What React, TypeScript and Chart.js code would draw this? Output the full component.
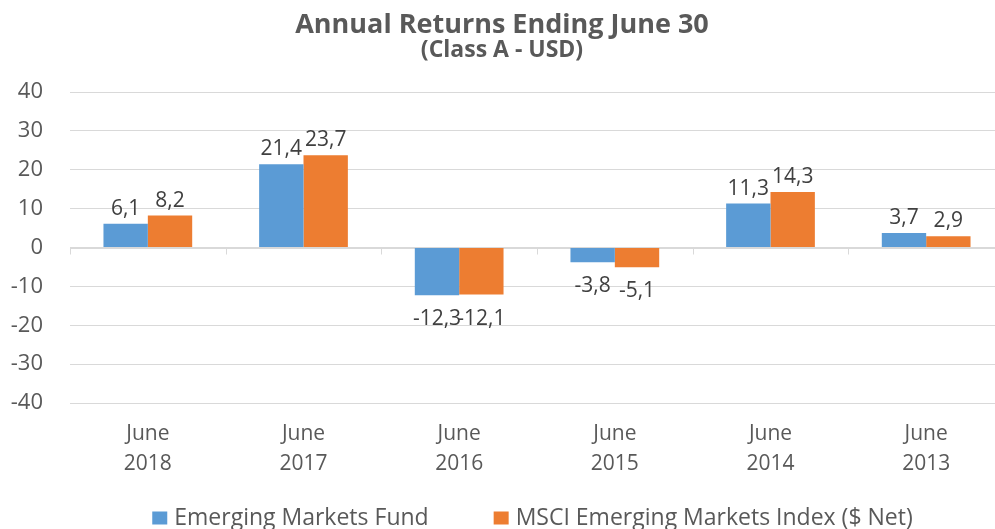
import React, { useEffect, useRef } from "react";
import { Chart, registerables } from "chart.js";

Chart.register(...registerables);

const categories: string[][] = [
  ["June", "2018"],
  ["June", "2017"],
  ["June", "2016"],
  ["June", "2015"],
  ["June", "2014"],
  ["June", "2013"],
];
const fundValues = [6.1, 21.4, -12.3, -3.8, 11.3, 3.7];
const indexValues = [8.2, 23.7, -12.1, -5.1, 14.3, 2.9];
const seriesNames = ["Emerging Markets Fund", "MSCI Emerging Markets Index ($ Net)"];
const seriesColors = ["#5B9BD5", "#ED7D31"];
const titleText = "Annual Returns Ending June 30";
const subtitleText = "(Class A - USD)";
const yMin = -40;
const yMax = 40;
const yStep = 10;

const FONT = "'Open Sans', sans-serif";
const TEXT = "#595959";
const GRID = "#D9D9D9";

const fmt = (v: number) => v.toFixed(1).replace(".", ",");

const dataLabelPlugin = {
  id: "dataLabels",
  afterDatasetsDraw(chart: any) {
    const ctx = chart.ctx;
    ctx.save();
    ctx.font = `21px ${FONT}`;
    ctx.fillStyle = "#404040";
    ctx.textAlign = "center";
    ctx.textBaseline = "alphabetic";
    chart.data.datasets.forEach((ds: any, di: number) => {
      const meta = chart.getDatasetMeta(di);
      meta.data.forEach((bar: any, i: number) => {
        const v = ds.data[i];
        if (v >= 0) {
          ctx.fillText(fmt(v), bar.x, bar.y - 9);
        } else {
          ctx.fillText(fmt(v), bar.x, bar.y + 30);
        }
      });
    });
    ctx.restore();
  },
};

const zeroAxisPlugin = {
  id: "zeroAxisTicks",
  beforeDatasetsDraw(chart: any) {
    const ctx = chart.ctx;
    const x = chart.scales.x;
    const y = chart.scales.y;
    const y0 = Math.round(y.getPixelForValue(0)) + 0.5;
    ctx.save();
    ctx.strokeStyle = GRID;
    ctx.lineWidth = 1;
    ctx.beginPath();
    ctx.moveTo(chart.chartArea.left, y0);
    ctx.lineTo(chart.chartArea.right, y0);
    const n = categories.length;
    for (let i = 0; i <= n; i++) {
      const px = Math.round(x.getPixelForValue(i - 0.5)) + 0.5;
      ctx.moveTo(px, y0);
      ctx.lineTo(px, y0 + 6);
    }
    ctx.stroke();
    ctx.restore();
  },
};

const bottomLegendPlugin = {
  id: "bottomLegend",
  afterDraw(chart: any) {
    const ctx = chart.ctx;
    const box = 15;
    const gapText = 7;
    const gapItems = 65;
    ctx.save();
    ctx.font = `23px ${FONT}`;
    const items = chart.data.datasets.map((ds: any) => ({
      text: ds.label as string,
      color: ds.backgroundColor as string,
      w: box + gapText + ctx.measureText(ds.label).width,
    }));
    const total = items.reduce((a: number, it: any) => a + it.w, 0) + gapItems * (items.length - 1);
    let x = chart.width / 2 + 30.5 - total / 2;
    const cy = chart.height - 11;
    items.forEach((it: any) => {
      ctx.fillStyle = it.color;
      ctx.fillRect(x, cy - box / 2 + 1, box, box - 2);
      ctx.fillStyle = TEXT;
      ctx.textAlign = "left";
      ctx.textBaseline = "middle";
      ctx.fillText(it.text, x + box + gapText, cy);
      x += it.w + gapItems;
    });
    ctx.restore();
  },
};

export default function App() {
  const ref = useRef<HTMLCanvasElement | null>(null);
  useEffect(() => {
    if (!ref.current) return;
    const chart = new Chart(ref.current, {
      type: "bar",
      data: {
        labels: categories,
        datasets: [
          {
            label: seriesNames[0],
            data: fundValues,
            backgroundColor: seriesColors[0],
            borderWidth: 0,
            categoryPercentage: 0.57,
            barPercentage: 1,
          },
          {
            label: seriesNames[1],
            data: indexValues,
            backgroundColor: seriesColors[1],
            borderWidth: 0,
            categoryPercentage: 0.57,
            barPercentage: 1,
          },
        ],
      },
      options: {
        animation: false,
        responsive: false,
        maintainAspectRatio: false,
        layout: { padding: { left: 0, right: 0, top: 0, bottom: 24 } },
        plugins: {
          title: {
            display: true,
            text: titleText,
            color: TEXT,
            font: { family: FONT, size: 27, weight: "bold", lineHeight: 1 },
            padding: { top: 12, bottom: 0 },
          },
          subtitle: {
            display: true,
            text: subtitleText,
            color: TEXT,
            font: { family: FONT, size: 23, weight: "bold", lineHeight: 1 },
            padding: { top: 0, bottom: 30 },
          },
          legend: { display: false },
          tooltip: { enabled: false },
        },
        scales: {
          x: {
            afterFit: (s: any) => {
              s.height = 102;
            },
            grid: { display: false },
            border: { display: false },
            ticks: {
              color: TEXT,
              font: { family: FONT, size: 21, lineHeight: 1.43 },
              padding: 8,
              maxRotation: 0,
            },
          },
          y: {
            min: yMin,
            max: yMax,
            afterFit: (s: any) => {
              s.width = 70;
            },
            grid: { color: GRID, drawTicks: false },
            border: { display: false },
            ticks: {
              stepSize: yStep,
              color: TEXT,
              font: { family: FONT, size: 22 },
              padding: 27,
            },
          },
        },
      },
      plugins: [zeroAxisPlugin, dataLabelPlugin, bottomLegendPlugin],
    } as any);
    return () => chart.destroy();
  }, []);
  return (
    <div style={{ position: "fixed", left: 0, top: 0, width: 995, height: 529, overflow: "hidden", background: "#fff" }}>
      <canvas ref={ref} width={1004} height={529} style={{ display: "block" }} />
    </div>
  );
}
